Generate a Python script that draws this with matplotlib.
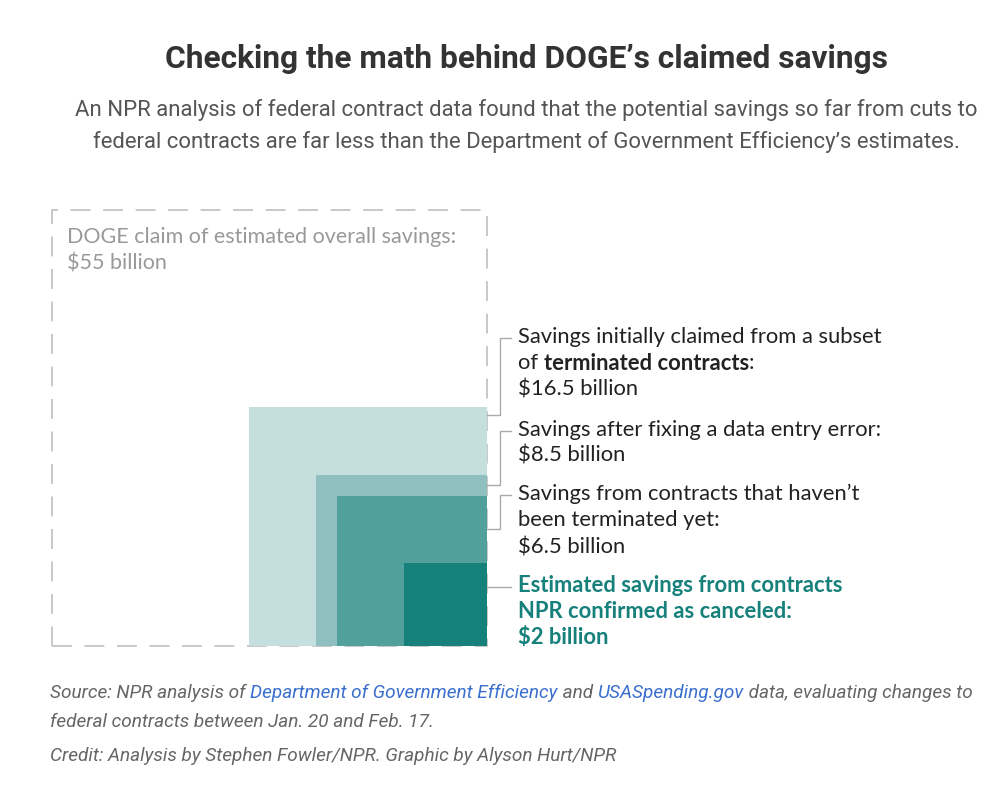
import numpy as np
import matplotlib
matplotlib.use('Agg')
import matplotlib.pyplot as plt
from matplotlib.patches import Rectangle
from matplotlib.lines import Line2D

# data (billions of dollars)
claim_label = 'DOGE claim of estimated overall savings:'
claim_value = 55
steps = ['Savings initially claimed', 'After data entry fix', 'Not yet terminated', 'NPR confirmed canceled']
values = [16.5, 8.5, 6.5, 2]
colors = ['#c5dfdf', '#8fbfbe', '#52a09c', '#16807b']

W, H = 1000, 794
fig = plt.figure(figsize=(W / 100, H / 100), dpi=100)
fig.patch.set_facecolor('white')
renderer = fig.canvas.get_renderer()


def fx(x):
    return x / W


def fy(y):
    return 1 - y / H


narrow = 'Roboto'
body = 'Lato'

# title + subtitle
fig.text(fx(526), fy(59), 'Checking the math behind DOGE\u2019s claimed savings',
         ha='center', va='center', fontsize=22.8, fontweight='bold', color='#333333', family=narrow)
fig.text(fx(526), fy(110), 'An NPR analysis of federal contract data found that the potential savings so far from cuts to',
         ha='center', va='center', fontsize=15.9, color='#555555', family=narrow)
fig.text(fx(526), fy(142), 'federal contracts are far less than the Department of Government Efficiency\u2019s estimates.',
         ha='center', va='center', fontsize=15.9, color='#555555', family=narrow)

# squares: side proportional to sqrt(value), anchored bottom-right
big = np.sqrt(claim_value)
ax = fig.add_axes([fx(52), fy(646), 435 / W, 436 / H])
ax.set_xlim(-big, 0)
ax.set_ylim(0, big)
ax.axis('off')
ax.add_patch(Rectangle((-big, 0), big, big, fill=False, edgecolor='#c4c4c4',
                       lw=1.3, linestyle=(0, (11, 7)), zorder=1, clip_on=False))
for v, c in zip(values, colors):
    s = np.sqrt(v)
    ax.add_patch(Rectangle((-s, 0), s, s, facecolor=c, edgecolor='none', zorder=2))

fs = 15.8
fig.text(fx(67), fy(237), claim_label, va='center', fontsize=15.5, color='#999999', family=body)
fig.text(fx(67), fy(263), '$%d billion' % claim_value, va='center', fontsize=15.5, color='#999999', family=body)


def seq(pieces, x, y, size, family, style='normal'):
    cx = x
    for txt, color, weight in pieces:
        t = fig.text(fx(cx), fy(y), txt, va='center', ha='left', fontsize=size,
                     color=color, fontweight=weight, family=family, fontstyle=style)
        cx += t.get_window_extent(renderer).width


dark = '#222222'
teal = '#16807b'
tx = 518
rows = [
    [[('Savings initially claimed from a subset', dark, 'normal')],
     [('of ', dark, 'normal'), ('terminated contracts', dark, 'bold'), (':', dark, 'normal')],
     [('$16.5 billion', dark, 'normal')]],
    [[('Savings after fixing a data entry error:', dark, 'normal')],
     [('$8.5 billion', dark, 'normal')]],
    [[('Savings from contracts that haven\u2019t', dark, 'normal')],
     [('been terminated yet:', dark, 'normal')],
     [('$6.5 billion', dark, 'normal')]],
    [[('Estimated savings from contracts', teal, 'bold')],
     [('NPR confirmed as canceled:', teal, 'bold')],
     [('$2 billion', teal, 'bold')]],
]
row_y = [[337, 363, 389], [430, 456], [494, 520, 547], [586, 612, 638]]
leader_y = [415, 485, 529, 587]

for lines, ys in zip(rows, row_y):
    for pieces, y in zip(lines, ys):
        seq(pieces, tx, y, fs, body)

# leader lines
lc = '#aaaaaa'
for ly, ys in zip(leader_y, row_y):
    top = ys[0] + 1
    if abs(ly - top) < 3:
        xs, yy = [487, 511], [ly, ly]
    else:
        xs, yy = [487, 500, 500, 511], [ly, ly, top, top]
    fig.add_artist(Line2D([fx(v) for v in xs], [fy(v) for v in yy], color=lc, lw=1,
                          transform=fig.transFigure))

# source notes
gray = '#666666'
blue = '#3b6fce'
cs = 13.7
seq([('Source: NPR analysis of ', gray, 'normal'),
     ('Department of Government Efficiency', blue, 'normal'),
     (' and ', gray, 'normal'),
     ('USASpending.gov', blue, 'normal'),
     (' data, evaluating changes to', gray, 'normal')], 50, 693, cs, narrow, 'italic')
seq([('federal contracts between Jan. 20 and Feb. 17.', gray, 'normal')], 50, 722, cs, narrow, 'italic')
seq([('Credit: Analysis by Stephen Fowler/NPR. Graphic by Alyson Hurt/NPR', gray, 'normal')], 50, 756, cs, narrow, 'italic')

fig.savefig('out.png', dpi=100, facecolor='white')
